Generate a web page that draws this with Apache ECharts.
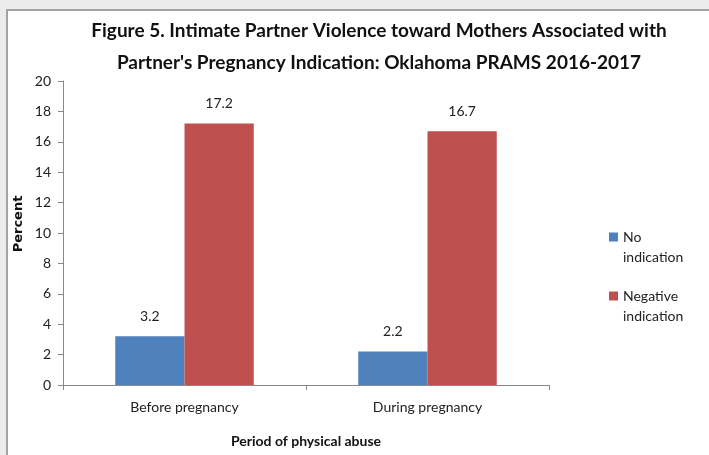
<!DOCTYPE html>
<html>
<head>
<meta charset="utf-8">
<script src="https://cdn.jsdelivr.net/npm/echarts@6/dist/echarts.min.js"></script>
<style>
  html, body { margin: 0; padding: 0; background: #ececec; width: 709px; height: 455px; overflow: hidden; }
  #frame { position: absolute; left: 6px; top: 9px; width: 760px; height: 500px; background: #fff; border-left: 2px solid #a3a3a3; border-top: 2px solid #a3a3a3; }
  #chart { position: absolute; left: 0; top: 0; width: 709px; height: 455px; }
</style>
</head>
<body>
<div id="frame"></div>
<div id="chart"></div>
<script>
const categories = ["Before pregnancy", "During pregnancy"];
const seriesNames = ["No indication", "Negative indication"];
const noIndication = [3.2, 2.2];
const negativeIndication = [17.2, 16.7];
const yTicks = [0, 2, 4, 6, 8, 10, 12, 14, 16, 18, 20];
const titleLines = ["Figure 5. Intimate Partner Violence toward Mothers Associated with", "Partner's Pregnancy Indication: Oklahoma PRAMS 2016-2017"];
const yAxisTitle = "Percent";
const xAxisTitle = "Period of physical abuse";

const FONT = "Lato";
const chart = echarts.init(document.getElementById('chart'), null, { renderer: 'canvas' });
chart.setOption({
  backgroundColor: 'transparent',
  animation: false,
  title: {
    text: titleLines.join('\n'),
    left: 374, top: 10, textAlign: 'center',
    textStyle: { fontFamily: FONT, fontWeight: 'bold', fontSize: 19, lineHeight: 32, color: '#111' }
  },
  legend: {
    orient: 'vertical', left: 609, top: 207, padding: 0,
    itemWidth: 9, itemHeight: 9, itemGap: -1,
    icon: 'rect',
    data: seriesNames,
    formatter: function (n) { return '\n' + n.replace(' ', '\n'); },
    textStyle: { fontFamily: FONT, fontSize: 14, lineHeight: 20, color: '#222' }
  },
  graphic: [{
    type: 'text', x: 19, y: 224, rotation: Math.PI / 2,
    style: { text: yAxisTitle, fontFamily: 'DejaVu Sans', fontWeight: 'bold', fontSize: 13, fill: '#111', align: 'center', verticalAlign: 'middle' }
  }],
  grid: { left: 63, right: 160, top: 81, bottom: 70 },
  xAxis: {
    type: 'category', data: categories,
    name: xAxisTitle, nameLocation: 'middle', nameGap: 49,
    nameTextStyle: { fontFamily: FONT, fontWeight: 'bold', fontSize: 14, color: '#111' },
    axisLine: { lineStyle: { color: '#888', width: 1 } },
    axisTick: { show: true, alignWithLabel: false, length: 5, lineStyle: { color: '#888' } },
    axisLabel: { fontFamily: FONT, fontSize: 14, color: '#222', margin: 15 }
  },
  yAxis: {
    type: 'value', min: 0, max: 20, interval: 2,
    axisLine: { show: true, lineStyle: { color: '#888', width: 1 } },
    axisTick: { show: true, length: 5, lineStyle: { color: '#888' } },
    splitLine: { show: false },
    axisLabel: { fontFamily: FONT, fontSize: 14, color: '#222', margin: 12,
      formatter: function (v) { return yTicks.indexOf(v) >= 0 ? String(v) : ''; } }
  },
  series: [
    { name: seriesNames[0], type: 'bar', data: noIndication, barGap: '0%', barCategoryGap: '43%',
      itemStyle: { color: '#4F81BD' },
      label: { show: true, position: 'top', distance: 13, fontFamily: FONT, fontSize: 14, color: '#222' } },
    { name: seriesNames[1], type: 'bar', data: negativeIndication, barGap: '0%', barCategoryGap: '43%',
      itemStyle: { color: '#C0504D' },
      label: { show: true, position: 'top', distance: 13, fontFamily: FONT, fontSize: 14, color: '#222' } }
  ]
});
</script>
</body>
</html>
